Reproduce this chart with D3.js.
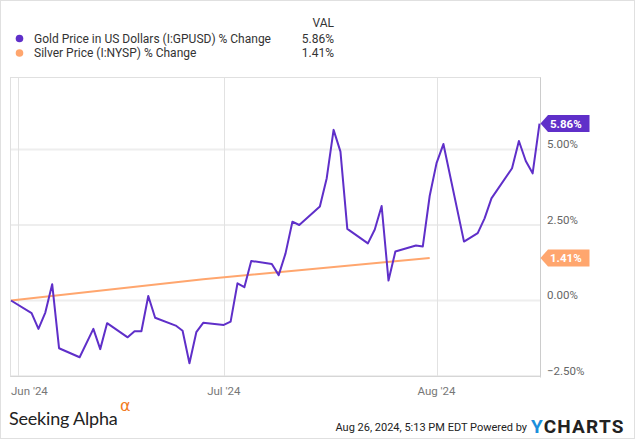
<!DOCTYPE html>
<html><head><meta charset="utf-8">
<script src="https://cdn.jsdelivr.net/npm/d3@7"></script>
<style>
html,body{margin:0;padding:0;background:#fff;}
svg{display:block;font-family:Roboto,"Liberation Sans",sans-serif;}
</style></head>
<body>
<script>
// ---- data ----
const goldDates = ["2024-05-31","2024-06-03","2024-06-04","2024-06-05","2024-06-06","2024-06-07","2024-06-10","2024-06-12","2024-06-13","2024-06-14","2024-06-17","2024-06-18","2024-06-19","2024-06-20","2024-06-21","2024-06-24","2024-06-25","2024-06-26","2024-06-27","2024-06-28","2024-07-01","2024-07-02","2024-07-03","2024-07-04","2024-07-05","2024-07-08","2024-07-09","2024-07-10","2024-07-11","2024-07-12","2024-07-15","2024-07-16","2024-07-17","2024-07-18","2024-07-19","2024-07-22","2024-07-23","2024-07-24","2024-07-25","2024-07-26","2024-07-29","2024-07-30","2024-07-31","2024-08-01","2024-08-02","2024-08-05","2024-08-07","2024-08-08","2024-08-09","2024-08-12","2024-08-13","2024-08-14","2024-08-15","2024-08-16"];
const goldValues = [0.00,-0.42,-0.94,-0.40,0.54,-1.58,-1.88,-0.94,-1.61,-0.75,-1.22,-1.02,-1.02,0.15,-0.57,-0.83,-1.00,-2.08,-1.05,-0.74,-0.81,-0.70,0.57,0.44,1.31,1.21,0.84,1.56,2.61,2.50,3.11,4.05,5.65,4.93,2.37,1.89,2.35,3.13,0.66,1.62,1.82,1.79,3.46,4.55,5.18,1.95,2.23,2.72,3.38,4.38,5.28,4.62,4.21,5.86];
const silverDates = ["2024-05-31","2024-06-28","2024-07-31"];
const silverValues = [0.00,0.70,1.41];
const seriesNames = ["Gold Price in US Dollars (I:GPUSD) % Change","Silver Price (I:NYSP) % Change"];
const seriesLast = ["5.86%","1.41%"];
const yTicks = [5,2.5,0,-2.5];
const xTicks = ["2024-06-01","2024-07-01","2024-08-01"];
const xTickLabels = ["Jun '24","Jul '24","Aug '24"];

const W=635,H=439;
const purple="#5f2fc9", orange="#ffa66e";
const parse=d3.timeParse("%Y-%m-%d");
const gold=goldDates.map((d,i)=>({date:parse(d),v:goldValues[i]}));
const silver=silverDates.map((d,i)=>({date:parse(d),v:silverValues[i]}));

const svg=d3.select("body").append("svg").attr("width",W).attr("height",H);
svg.append("rect").attr("x",0.5).attr("y",0.5).attr("width",W-1).attr("height",H-1).attr("fill","#fff").attr("stroke","#e0e0e0");

const L=10.5,R=540.5,T=77.5,B=376.5;
const x=d3.scaleTime().domain([parse("2024-05-31"),parse("2024-08-16")]).range([11,539.5]);
const y=d3.scaleLinear().domain([0,5]).range([300.5,149.5]);

// gridlines
const g=svg.append("g");
g.selectAll(".hg").data(yTicks).join("line")
 .attr("x1",L).attr("x2",R).attr("y1",d=>y(d)).attr("y2",d=>y(d))
 .attr("stroke","#eeeeee").attr("stroke-width",2);
g.selectAll(".vg").data(xTicks).join("line")
 .attr("x1",d=>Math.round(x(parse(d)))+0.5).attr("x2",d=>Math.round(x(parse(d)))+0.5).attr("y1",T).attr("y2",B)
 .attr("stroke","#e2e2e2").attr("stroke-width",1);
// frame
g.append("rect").attr("x",L).attr("y",T).attr("width",R-L).attr("height",B-T).attr("fill","none").attr("stroke","#e0e0e0");
g.append("line").attr("x1",R).attr("x2",R).attr("y1",T).attr("y2",B+1).attr("stroke","#cccccc");
g.append("line").attr("x1",L).attr("x2",R).attr("y1",B).attr("y2",B).attr("stroke","#d6d6d6");

// y labels
svg.selectAll(".yl").data(yTicks).join("text")
 .attr("x",547).attr("y",d=>y(d)-1.5)
 .attr("font-size",11.5).attr("fill","#666")
 .text(d=>d3.format(".2f")(d)+"%");

// x labels
svg.selectAll(".xl").data(xTicks).join("text")
 .attr("x",(d,i)=>i===0?11:x(parse(d)))
 .attr("text-anchor",(d,i)=>i===0?"start":"middle")
 .attr("y",395).attr("font-size",11.5).attr("fill","#777")
 .text((d,i)=>xTickLabels[i]);

// lines
const line=d3.line().x(d=>x(d.date)).y(d=>y(d.v));
svg.append("path").datum(silver).attr("d",line).attr("fill","none").attr("stroke",orange).attr("stroke-width",2);
svg.append("path").datum(gold).attr("d",line).attr("fill","none").attr("stroke",purple).attr("stroke-width",2).attr("stroke-linejoin","round");

// value tags
function tag(val,label,color){
  const cy=y(val), tip=540.5, bx=548, w=41.5, h=17;
  svg.append("path").attr("d",`M${tip},${cy} L${bx},${cy-h/2} L${bx+w},${cy-h/2} L${bx+w},${cy+h/2} L${bx},${cy+h/2} Z`).attr("fill",color);
  svg.append("text").attr("x",bx+2).attr("y",cy+4).attr("font-size",11.5).attr("font-weight","bold").attr("fill","#fff").text(label);
}
tag(1.41,"1.41%",orange);
tag(5.86,"5.86%",purple);

// legend
svg.append("text").attr("x",334).attr("y",27).attr("text-anchor","end").attr("font-size",12).attr("fill","#333").text("VAL");
const lg=svg.selectAll(".lg").data(seriesNames).join("g").attr("transform",(d,i)=>`translate(0,${38.5+i*14.5})`);
lg.append("circle").attr("cx",19.5).attr("cy",0).attr("r",3.8).attr("fill",(d,i)=>i?orange:purple);
lg.append("text").attr("x",34).attr("y",4.3).attr("font-size",12).attr("fill","#333").text(d=>d);
lg.append("text").attr("x",334).attr("y",4.3).attr("text-anchor","end").attr("font-size",12).attr("fill","#333").text((d,i)=>seriesLast[i]);

// footer
svg.append("text").attr("x",9).attr("y",425).attr("font-family","Lato,'Open Sans',sans-serif").attr("font-size",18).attr("letter-spacing",-0.2).attr("fill","#222").text("Seeking Alpha");
svg.append("text").attr("x",120).attr("y",411).attr("font-family","'DejaVu Sans',sans-serif").attr("font-size",16).attr("fill","#f27c1f").text("α");
svg.append("text").attr("x",527).attr("y",431).attr("text-anchor","end").attr("font-size",11).attr("fill","#222").text("Aug 26, 2024, 5:13 PM EDT Powered by");
const yc=svg.append("text").attr("x",531).attr("y",433).attr("font-size",19).attr("font-weight","bold").attr("letter-spacing",1.2);
yc.append("tspan").attr("fill","#1b8fdc").text("Y");
yc.append("tspan").attr("fill","#222").text("CHARTS");
</script>
</body></html>
